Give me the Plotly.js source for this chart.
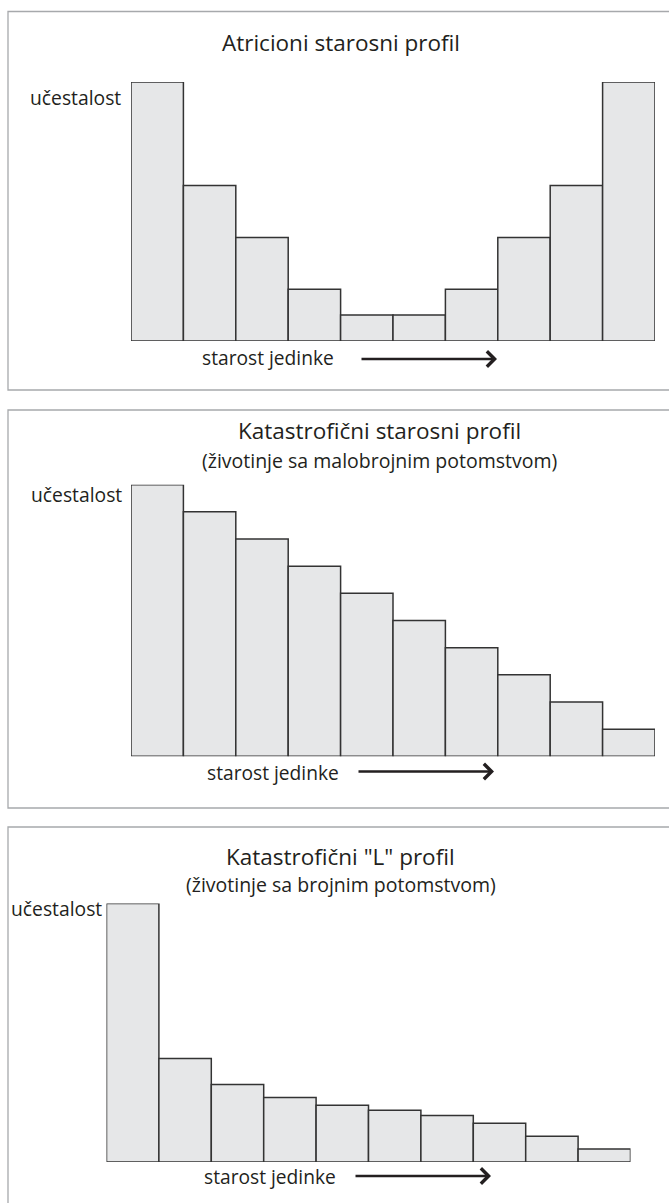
<!DOCTYPE html>
<html>
<head>
<meta charset="utf-8">
<script src="https://cdn.plot.ly/plotly-3.0.1.min.js"></script>
<style>html,body{margin:0;padding:0;background:#fff;}#chart{width:669px;height:1203px;}</style>
</head>
<body>
<div id="chart"></div>
<script>
// Age classes (x categories)
const ageClasses = [1, 2, 3, 4, 5, 6, 7, 8, 9, 10];
// Relative frequencies
const attritional = [10, 6, 4, 2, 1, 1, 2, 4, 6, 10];
const catastrophic = [10, 9, 8, 7, 6, 5, 4, 3, 2, 1];
const lProfile = [20, 8, 6, 5, 4.4, 4, 3.6, 3, 2, 1];

const titles = ['Atricioni starosni profil', 'Katastrofični starosni profil', 'Katastrofični "L" profil'];
const subtitles = ['', '(životinje sa malobrojnim potomstvom)', '(životinje sa brojnim potomstvom)'];
const yLabel = 'učestalost';
const xLabel = 'starost jedinke';

const W = 669, H = 1203;
const px = v => v / W;
const py = v => 1 - v / H;
const FONT = '"Open Sans", "Noto Sans", sans-serif';

const barStyle = {
  color: '#e6e7e8',
  line: {color: '#333333', width: 1.5}
};

const series = [attritional, catastrophic, lProfile];
const traces = series.map((vals, i) => ({
  type: 'bar',
  x: ageClasses,
  y: vals,
  width: 1,
  marker: barStyle,
  xaxis: i === 0 ? 'x' : 'x' + (i + 1),
  yaxis: i === 0 ? 'y' : 'y' + (i + 1),
  hoverinfo: 'skip',
  showlegend: false
}));

// panel geometry (pixels)
const panels = [
  {bx0: 131, bx1: 655, base: 341, top: 82, ymax: 10, box: [8, 11.5, 700, 390],
   titleY: 42, titleX: 341, subY: null, ylabX: 123, ylabY: 97, xlabX: 336, xlabY: 358, arrow: [360, 497, 359]},
  {bx0: 131, bx1: 655, base: 756.3, top: 484.7, ymax: 10, box: [8, 410, 700, 808],
   titleY: 430, titleX: 379, subY: 460, ylabX: 124, ylabY: 494, xlabX: 341, xlabY: 772, arrow: [357, 494, 771.5]},
  {bx0: 106.5, bx1: 630.5, base: 1162, top: 903.5, ymax: 20, box: [8, 827, 700, 1230],
   titleY: 856.5, titleX: 341, subY: 884, ylabX: 104, ylabY: 908, xlabX: 337.5, xlabY: 1176.5, arrow: [354, 491, 1176]}
];

const layout = {
  width: W, height: H,
  margin: {l: 0, r: 0, t: 0, b: 0},
  paper_bgcolor: '#ffffff',
  plot_bgcolor: 'rgba(0,0,0,0)',
  bargap: 0,
  showlegend: false,
  font: {family: FONT, color: '#231f20'},
  shapes: [],
  annotations: []
};

panels.forEach((p, i) => {
  const s = i === 0 ? '' : String(i + 1);
  layout['xaxis' + s] = {
    domain: [px(p.bx0), px(p.bx1)],
    range: [0.5, 10.5],
    anchor: 'y' + s,
    showgrid: false, zeroline: false, showticklabels: false, ticks: '', showline: false,
    fixedrange: true
  };
  layout['yaxis' + s] = {
    domain: [py(p.base), py(p.top)],
    range: [0, p.ymax],
    anchor: 'x' + s,
    showgrid: false, zeroline: false, showticklabels: false, ticks: '', showline: false,
    fixedrange: true
  };
  layout.shapes.push({
    type: 'rect', xref: 'paper', yref: 'paper', layer: 'below',
    x0: px(p.box[0]), x1: px(p.box[2]), y0: py(p.box[3]), y1: py(p.box[1]),
    line: {color: '#a7a9ac', width: 1.3}, fillcolor: 'rgba(0,0,0,0)'
  });
  layout.annotations.push({
    xref: 'paper', yref: 'paper', x: px(p.titleX), y: py(p.titleY),
    xanchor: 'center', yanchor: 'middle', showarrow: false,
    text: titles[i], font: {family: FONT, size: 22.5, color: '#231f20'}
  });
  if (p.subY) {
    layout.annotations.push({
      xref: 'paper', yref: 'paper', x: px(p.titleX), y: py(p.subY),
      xanchor: 'center', yanchor: 'middle', showarrow: false,
      text: subtitles[i], font: {family: FONT, size: 19.5, color: '#231f20'}
    });
  }
  layout.annotations.push({
    xref: 'paper', yref: 'paper', x: px(p.ylabX), y: py(p.ylabY),
    xanchor: 'right', yanchor: 'middle', showarrow: false,
    text: yLabel, font: {family: FONT, size: 19.3, color: '#231f20'}
  });
  layout.annotations.push({
    xref: 'paper', yref: 'paper', x: px(p.xlabX), y: py(p.xlabY),
    xanchor: 'right', yanchor: 'middle', showarrow: false,
    text: xLabel, font: {family: FONT, size: 19.2, color: '#231f20'}
  });
  layout.annotations.push({
    xref: 'paper', yref: 'paper', x: px(p.arrow[1]), y: py(p.arrow[2]),
    axref: 'pixel', ayref: 'pixel', ax: -(p.arrow[1] - p.arrow[0]), ay: 0,
    text: '', showarrow: true, arrowhead: 4, arrowsize: 1.15, arrowwidth: 2.6,
    arrowcolor: '#231f20', standoff: 0
  });
});

Plotly.newPlot('chart', traces, layout, {displayModeBar: false, staticPlot: true});
</script>
</body>
</html>
